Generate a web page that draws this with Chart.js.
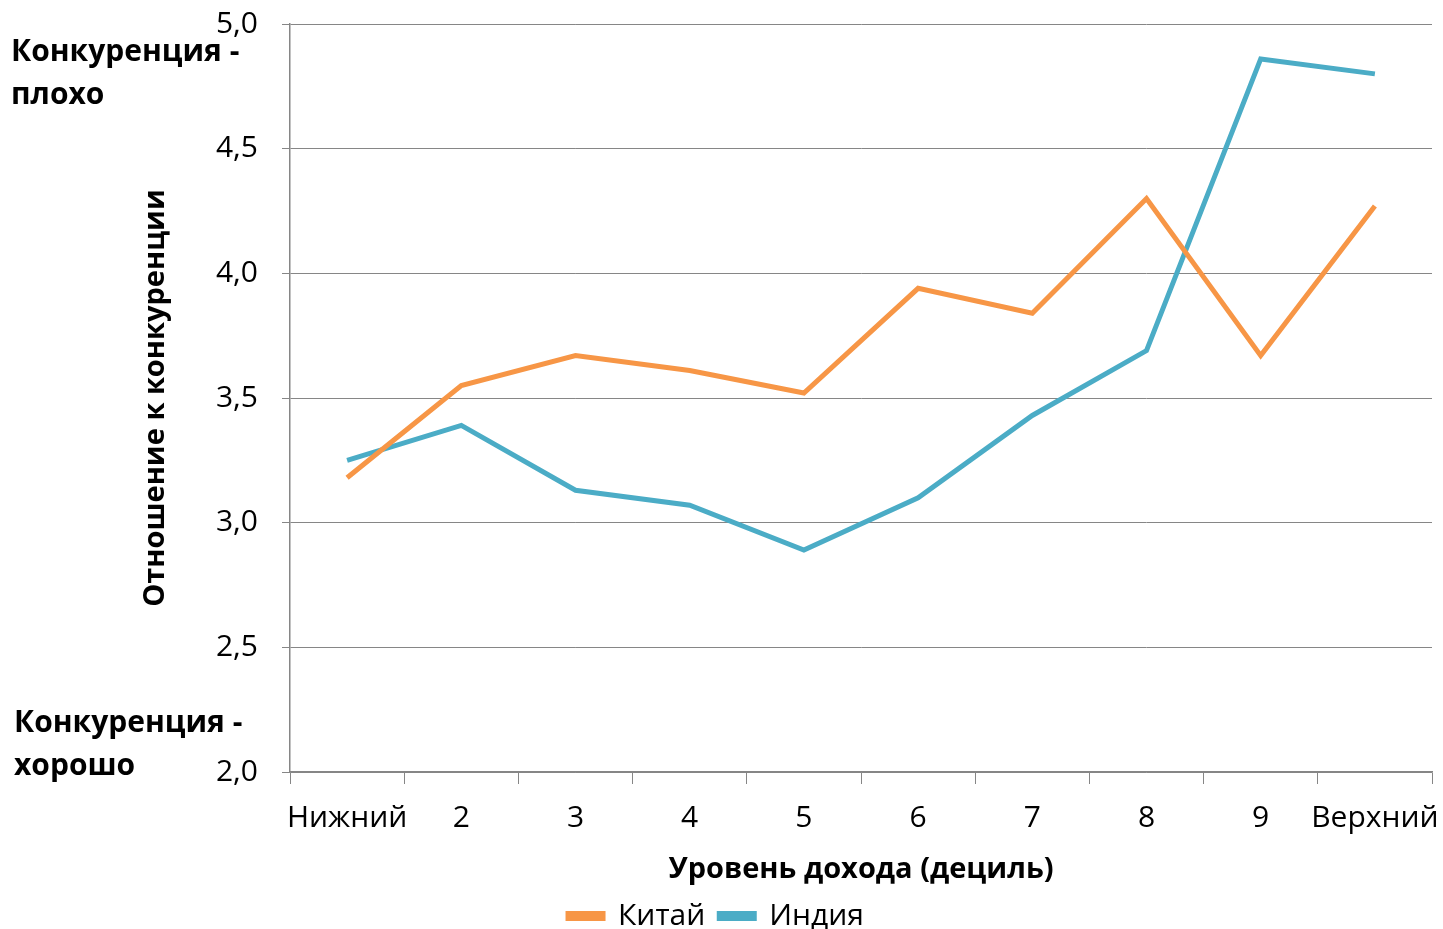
<!DOCTYPE html>
<html>
<head>
<meta charset="utf-8">
<script src="https://cdn.jsdelivr.net/npm/chart.js@4"></script>
<style>
  html, body { margin: 0; padding: 0; background: #fff; }
</style>
</head>
<body>
<canvas id="chart" width="1443" height="929"></canvas>
<script>
// data
const deciles = ['Нижний', '2', '3', '4', '5', '6', '7', '8', '9', 'Верхний'];
const china = [3.18, 3.55, 3.67, 3.61, 3.52, 3.94, 3.84, 4.30, 3.67, 4.27];
const india = [3.25, 3.39, 3.13, 3.07, 2.89, 3.10, 3.43, 3.69, 4.86, 4.80];
const topNote = ['Конкуренция -', 'плохо'];
const bottomNote = ['Конкуренция -', 'хорошо'];

const FONT = '"Open Sans", "Noto Sans", sans-serif';

// side notes next to the y axis
const notesPlugin = {
   id: 'notes',
   afterDraw(chart) {
      const ctx = chart.ctx;
      ctx.save();
      ctx.font = 'bold 30px ' + FONT;
      ctx.fillStyle = '#000';
      ctx.textBaseline = 'middle';
      ctx.fillText(topNote[0], 11, 52);
      ctx.fillText(topNote[1], 11, 95);
      ctx.fillText(bottomNote[0], 14, 723);
      ctx.fillText(bottomNote[1], 14, 766);
      ctx.restore();
   }
};

new Chart(document.getElementById('chart'), {
   type: 'line',
   data: {
      labels: deciles,
      datasets: [{
         label: 'Китай',
         data: china,
         borderColor: '#F79646',
         backgroundColor: '#F79646',
         borderWidth: 5,
         pointRadius: 0,
         tension: 0
      }, {
         label: 'Индия',
         data: india,
         borderColor: '#4BACC6',
         backgroundColor: '#4BACC6',
         borderWidth: 5,
         pointRadius: 0,
         tension: 0
      }]
   },
   options: {
      responsive: false,
      animation: false,
      layout: { padding: { left: 0, top: 24, right: 11, bottom: -12 } },
      scales: {
         x: {
            offset: true,
            afterFit(scale) {
               scale.height = 115;
               scale.paddingLeft = 0;
               scale.paddingRight = 0;
            },
            grid: {
               offset: true,
               drawOnChartArea: false,
               drawTicks: true,
               tickLength: 12,
               color: '#868686'
            },
            border: { color: '#868686', width: 1.5 },
            ticks: {
               color: '#000',
               font: { family: FONT, size: 30 },
               padding: 16,
               maxRotation: 0,
               autoSkip: false
            },
            title: {
               display: true,
               text: 'Уровень дохода (дециль)',
               color: '#000',
               font: { family: FONT, size: 29, weight: 'bold' },
               padding: { top: 0, bottom: 0 }
            }
         },
         y: {
            min: 2,
            max: 5,
            afterFit(scale) {
               scale.width = 290;
               scale.paddingTop = 0;
               scale.paddingBottom = 0;
            },
            grid: {
               color: '#868686',
               lineWidth: 1,
               tickLength: 8
            },
            border: { color: '#868686', width: 1.5 },
            ticks: {
               stepSize: 0.5,
               color: '#000',
               font: { family: FONT, size: 30 },
               padding: 24,
               callback: v => v.toFixed(1).replace('.', ',')
            },
            title: {
               display: true,
               text: 'Отношение к конкуренции',
               color: '#000',
               font: { family: FONT, size: 29, weight: 'bold' },
               padding: { top: 138, bottom: 0 }
            }
         }
      },
      plugins: {
         legend: {
            position: 'bottom',
            labels: {
               boxWidth: 35,
               boxHeight: 5,
               color: '#000',
               font: { family: FONT, size: 30 },
               padding: 14
            }
         },
         tooltip: { enabled: false }
      }
   },
   plugins: [notesPlugin]
});
</script>
</body>
</html>
